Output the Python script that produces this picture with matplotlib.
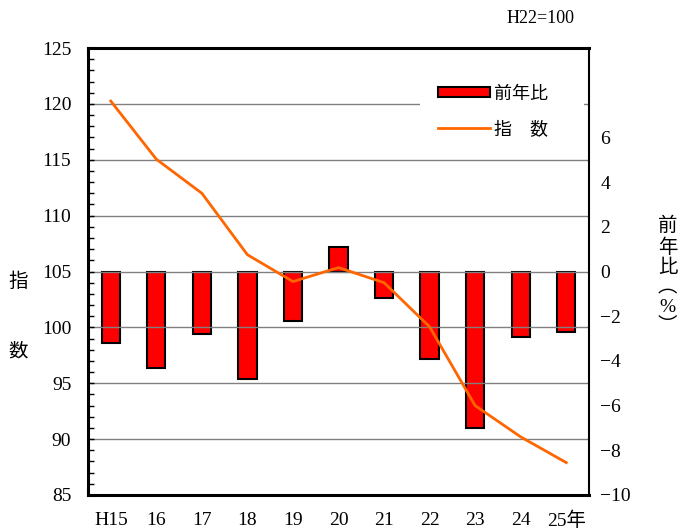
import matplotlib.pyplot as plt
from matplotlib.ticker import MultipleLocator

plt.rcParams['font.family'] = ['Liberation Serif', 'Noto Sans CJK JP']

# data
years = ["H15", "16", "17", "18", "19", "20", "21", "22", "23", "24", "25年"]
index_vals = [120.25, 115.05, 112.0, 106.5, 104.1, 105.35, 104.0, 100.05, 93.0, 90.2, 87.9]
yoy_pct = [-3.2, -4.3, -2.8, -4.8, -2.2, 1.1, -1.2, -3.9, -7.0, -2.95, -2.7]

fig = plt.figure(figsize=(6.8, 5.31), dpi=100)
ax = fig.add_axes([0.1294, 0.0678, 0.7368, 0.8418])
ax2 = ax.twinx()
ax.set_zorder(2)
ax.patch.set_visible(False)

x = range(len(years))
bars = ax2.bar(x, yoy_pct, width=0.4, color="#FF0000", edgecolor="black", linewidth=1.5, label="前年比")
line, = ax.plot(x, index_vals, color="#FF6600", linewidth=2, label="指　数")

ax.set_xlim(-0.5, len(years) - 0.5)
ax.set_ylim(85, 125)
ax2.set_ylim(-10, 10)

ax.set_yticks(range(85, 126, 5))
ax.yaxis.set_minor_locator(MultipleLocator(1))
ax.tick_params(axis='y', which='both', direction='in', length=4, width=1, pad=12, labelsize=14)
ax.set_xticks(list(x))
ax.set_xticklabels(years)
ax.tick_params(axis='x', length=0, pad=12, labelsize=14)
ax.grid(axis='y', color="#808080", linewidth=1)

ax2.set_yticks(range(-10, 7, 2))
ax2.set_yticklabels([str(v).replace("-", "−") for v in range(-10, 7, 2)])
ax2.tick_params(axis='y', length=0, pad=8, labelsize=14)

for side in ["left", "top", "bottom"]:
    ax.spines[side].set_linewidth(2.2)
ax.spines["right"].set_linewidth(1.5)
for side in ax2.spines:
    ax2.spines[side].set_visible(False)

# trailing full-width spaces widen the white legend box like the original
leg = ax.legend([bars, line], ["前年比　", "指　数　"], loc="upper right", bbox_to_anchor=(0.99, 0.956),
                fontsize=13, frameon=True, handlelength=2.9, handleheight=0.5, labelspacing=1.0,
                borderpad=1.0, handletextpad=0.2, borderaxespad=0.0)
leg.get_frame().set_edgecolor("none")
leg.get_frame().set_facecolor("white")
leg.get_frame().set_alpha(1)

fig.text(0.027, 0.47, "指", fontsize=14, ha="center", va="center")
fig.text(0.027, 0.337, "数", fontsize=14, ha="center", va="center")
fig.text(0.982, 0.48, "前\n年\n比\n︵\n%\n︶", fontsize=14, ha="center", va="center", linespacing=1.2)
fig.text(0.795, 0.965, "H22=100", fontsize=13, ha="center", va="center")

fig.savefig("out.png", dpi=100)
